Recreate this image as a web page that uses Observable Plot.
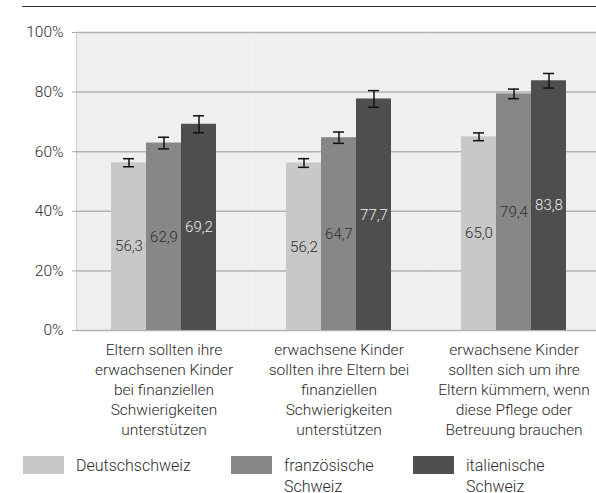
<!DOCTYPE html>
<html>
<head>
<meta charset="utf-8">
<script src="https://cdn.jsdelivr.net/npm/d3@7"></script>
<script src="https://cdn.jsdelivr.net/npm/@observablehq/plot@0.6"></script>
<style>
  body { margin: 0; background: #fff; font-family: Roboto, "Noto Sans", sans-serif; font-weight: 300; }
  #wrap { position: relative; width: 596px; height: 493px; overflow: hidden; }
  #topline { position: absolute; left: 22px; right: 0; top: 6px; height: 0; border-top: 1.6px solid #333; }
  #chart { position: absolute; left: 0; top: 0; }
  #chart g[aria-label*="axis"] text { fill: #2a2a2a; }
  #legend { position: absolute; top: 455px; left: 0; width: 596px; font-size: 16px; color: #2a2a2a; }
  .sw { position: absolute; top: 1px; width: 41px; height: 18px; }
  .lab { position: absolute; top: 0; line-height: 21px; white-space: nowrap; }
</style>
</head>
<body>
<div id="wrap">
  <div id="topline"></div>
  <div id="chart"></div>
  <div id="legend"></div>
</div>
<script>
// ---- data ----
const categories = [
  "Eltern sollten ihre\nerwachsenen Kinder\nbei finanziellen\nSchwierigkeiten\nunterstützen",
  "erwachsene Kinder\nsollten ihre Eltern bei\nfinanziellen\nSchwierigkeiten\nunterstützen",
  "erwachsene Kinder\nsollten sich um ihre\nEltern kümmern, wenn\ndiese Pflege oder\nBetreuung brauchen"
];
const series = ["Deutschschweiz", "französische Schweiz", "italienische Schweiz"];
const legendLabels = ["Deutschschweiz", "französische<br>Schweiz", "italienische<br>Schweiz"];
const valuesDeutsch = [56.3, 56.2, 65.0];
const valuesFranz = [62.9, 64.7, 79.4];
const valuesItal = [69.2, 77.7, 83.8];
const errDeutsch = [1.35, 1.45, 1.3];
const errFranz = [1.95, 1.9, 1.6];
const errItal = [2.85, 2.8, 2.45];
const yTicks = [0, 20, 40, 60, 80, 100];

const colors = ["#c8c8c8", "#878787", "#4e4e4e"];
const labelColors = ["#2e2e2e", "#2e2e2e", "#eeeeee"];

const seriesValues = [valuesDeutsch, valuesFranz, valuesItal];
const seriesErr = [errDeutsch, errFranz, errItal];
const data = [];
categories.forEach((c, ci) => {
  series.forEach((s, si) => {
    const v = seriesValues[si][ci], e = seriesErr[si][ci];
    data.push({cat: c, series: s, value: v, lo: v - e, hi: v + e});
  });
});

const fmt = v => v.toFixed(1).replace(".", ",");

const chart = Plot.plot({
  width: 596,
  height: 493,
  marginLeft: 75,
  marginRight: 0,
  marginTop: 32,
  marginBottom: 163,
  style: {fontFamily: "Roboto, 'Noto Sans', sans-serif", fontSize: "15.5px", color: "#aaaaaa", background: "transparent", fontWeight: 300},
  fx: {domain: categories, padding: 0, range: [75, 601], label: null, axis: null},
  x: {domain: series, paddingInner: 0, paddingOuter: 1, axis: null},
  y: {domain: [0, 100], ticks: yTicks, tickFormat: d => d + "%", label: null, tickSize: 4, tickPadding: 9, line: true},
  color: {domain: series, range: colors},
  marks: [
    Plot.frame({fill: "#efefef", stroke: null}),
    Plot.ruleY(yTicks, {stroke: "#b2b2b2", strokeWidth: 1.5}),
    Plot.barY(data, {fx: "cat", x: "series", y: "value", fill: "series"}),
    Plot.ruleX(data, {fx: "cat", x: "series", y1: "lo", y2: "hi", stroke: "#111", strokeWidth: 1.5}),
    Plot.tickY(data, {fx: "cat", x: "series", y: "lo", stroke: "#111", strokeWidth: 1.5, insetLeft: 12, insetRight: 12}),
    Plot.tickY(data, {fx: "cat", x: "series", y: "hi", stroke: "#111", strokeWidth: 1.5, insetLeft: 12, insetRight: 12}),
    ...series.map((s, si) => Plot.text(data.filter(d => d.series === s), {
      fx: "cat", x: "series", y: d => d.value / 2, text: d => fmt(d.value),
      fill: labelColors[si], fontSize: 15
    })),
    Plot.axisFx({anchor: "bottom", tickSize: 0, tickPadding: 10, fontSize: 15.5, lineHeight: 1.3, label: null, fill: "#2a2a2a"})
  ]
});
document.getElementById("chart").appendChild(chart);

// legend
const legendPos = [23, 231, 413];
const legend = document.getElementById("legend");
series.forEach((s, i) => {
  const sw = document.createElement("div");
  sw.className = "sw";
  sw.style.left = legendPos[i] + "px";
  sw.style.background = colors[i];
  legend.appendChild(sw);
  const lab = document.createElement("div");
  lab.className = "lab";
  lab.style.left = (legendPos[i] + 53) + "px";
  lab.innerHTML = legendLabels[i];
  legend.appendChild(lab);
});
</script>
</body>
</html>
